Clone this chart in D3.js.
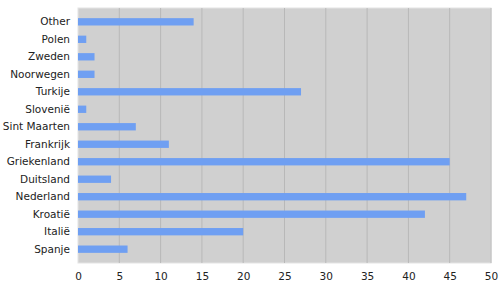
<!DOCTYPE html>
<html>
<head>
<meta charset="UTF-8">
<script src="https://d3js.org/d3.v7.min.js"></script>
<style>
  body { margin: 0; background: #fff; }
  svg text { font-family: "DejaVu Sans", sans-serif; font-size: 10.5px; fill: #222; }
</style>
</head>
<body>
<div id="chart"></div>
<script>
  const countries = ["Other", "Polen", "Zweden", "Noorwegen", "Turkije", "Slovenië", "Sint Maarten",
    "Frankrijk", "Griekenland", "Duitsland", "Nederland", "Kroatië", "Italië", "Spanje"];
  const values = [14, 1, 2, 2, 27, 1, 7, 11, 45, 4, 47, 42, 20, 6];
  const xTicks = [0, 5, 10, 15, 20, 25, 30, 35, 40, 45, 50];

  const width = 500, height = 287;
  const margin = { top: 8, right: 9, bottom: 24, left: 78 };

  const svg = d3.select("#chart").append("svg")
    .attr("width", width)
    .attr("height", height);

  const x = d3.scaleLinear().domain([0, 50]).range([margin.left, width - margin.right]);
  const y = d3.scaleBand().domain(countries).range([margin.top, height - margin.bottom]).padding(0.58);

  // plot background
  svg.append("rect")
    .attr("x", margin.left)
    .attr("y", margin.top)
    .attr("width", x(50) - x(0))
    .attr("height", height - margin.bottom - margin.top)
    .attr("fill", "#d0d0d0")
    .attr("stroke", "#e4e4e4");

  // vertical grid
  svg.append("g")
    .selectAll("line")
    .data(xTicks.slice(1))
    .enter().append("line")
    .attr("x1", d => x(d)).attr("x2", d => x(d))
    .attr("y1", margin.top).attr("y2", height - margin.bottom)
    .attr("stroke", "#b8b8b8")
    .attr("stroke-width", 1);

  // bars
  svg.append("g")
    .selectAll("rect")
    .data(countries)
    .enter().append("rect")
    .attr("x", x(0))
    .attr("y", d => y(d))
    .attr("width", (d, i) => x(values[i]) - x(0))
    .attr("height", y.bandwidth())
    .attr("fill", "#6f9ff2");

  // y labels
  const yAxis = svg.append("g")
    .attr("transform", `translate(${margin.left},0)`)
    .call(d3.axisLeft(y).tickSize(0).tickPadding(8));
  yAxis.select(".domain").remove();

  // x labels
  const xAxis = svg.append("g")
    .attr("transform", `translate(0,${height - margin.bottom})`)
    .call(d3.axisBottom(x).tickValues(xTicks).tickSize(0).tickPadding(10));
  xAxis.select(".domain").remove();
  svg.selectAll(".tick text").attr("font-family", null).attr("font-size", null);
</script>
</body>
</html>
